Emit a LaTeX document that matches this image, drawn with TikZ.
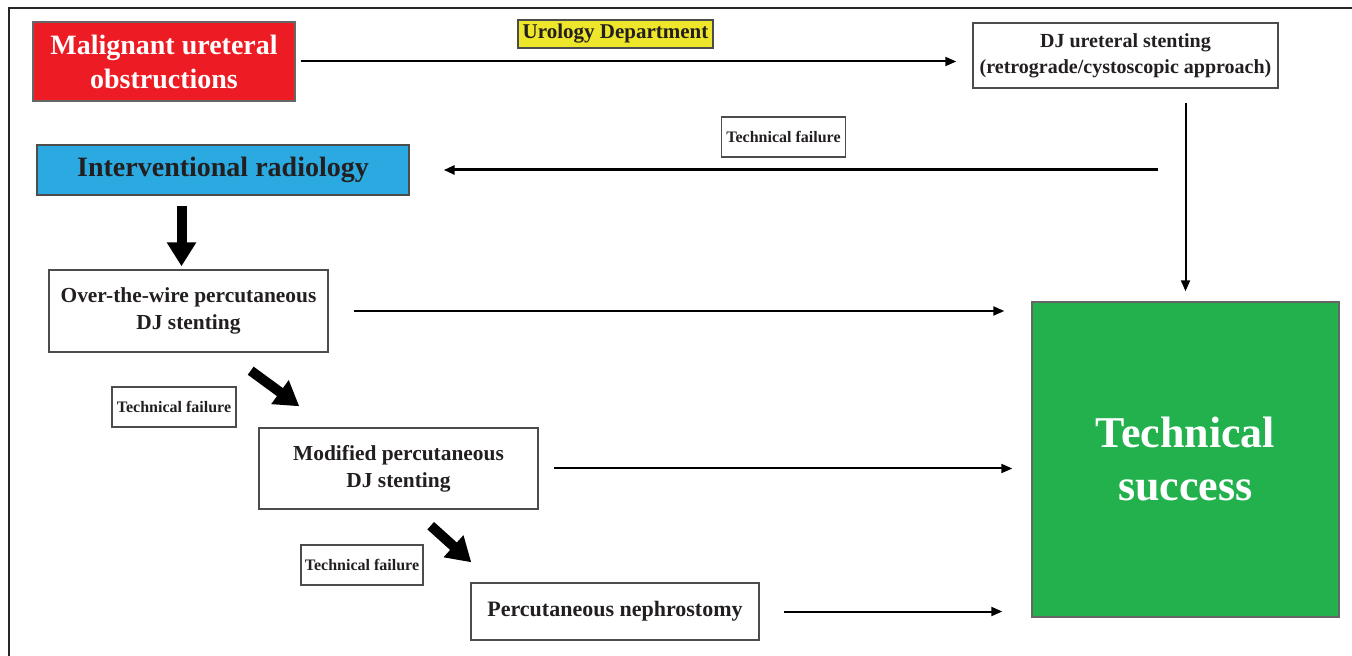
\documentclass[tikz,border=0pt]{standalone}
\usepackage{fontspec}
\setmainfont{Liberation Serif}
\usetikzlibrary{arrows.meta,calc}

\definecolor{maligred}{HTML}{ED1C24}
\definecolor{irblue}{HTML}{2AAAE0}
\definecolor{uroyellow}{HTML}{EDE62A}
\definecolor{okgreen}{HTML}{22B14C}
\definecolor{inkdark}{HTML}{231F20}

\tikzset{
  stage/.style={draw=black!70, line width=0.7pt, align=center, inner sep=0pt,
    text=inkdark, font=\bfseries\fontsize{10.7}{13.5}\selectfont},
  fail/.style={stage, minimum width=62pt, minimum height=20pt,
    font=\bfseries\fontsize{8}{9}\selectfont},
  flow/.style={-{Triangle[width=4.5pt,length=5.5pt]}, line width=1pt},
  push/.style={-{Triangle[width=14pt,length=12pt]}, line width=5pt},
}

\begin{document}
\begin{tikzpicture}[x=0.5pt,y=-0.5pt]
  \useasboundingbox (0,0) rectangle (1352,656);
  % frame
  \draw[line width=1pt, black!85] (9,656) -- (9,8) -- (1352,8);

  % Nodes
  \node[stage, fill=maligred, draw=black!60, text=white, minimum width=131pt, minimum height=39.5pt,
    font=\bfseries\fontsize{14}{17}\selectfont] (malig) at (164,61.5) {Malignant ureteral\\obstructions};
  \node[stage, fill=uroyellow, minimum width=97.5pt, minimum height=14pt,
    font=\bfseries\fontsize{10.5}{12}\selectfont] (urol) at (615.5,34) {Urology Department};
  \node[stage, minimum width=152.5pt, minimum height=32.5pt,
    font=\bfseries\fontsize{10}{13}\selectfont] (dj) at (1125.5,55.5) {DJ ureteral stenting\\(retrograde/cystoscopic approach)};
  \node[fail] (fail1) at (783.5,137) {Technical failure};
  \node[stage, fill=irblue, minimum width=186pt, minimum height=25pt,
    font=\bfseries\fontsize{14}{17}\selectfont] (ir) at (223,170) {Interventional radiology};
  \node[stage, minimum width=139.5pt, minimum height=41pt] (otw) at (188.5,311) {Over-the-wire percutaneous\\DJ stenting};
  \node[fail] (fail2) at (174,407) {Technical failure};
  \node[stage, minimum width=139.5pt, minimum height=40.5pt] (mod) at (398.5,468.5) {Modified percutaneous\\DJ stenting};
  \node[fail, minimum width=61pt] (fail3) at (362,565) {Technical failure};
  \node[stage, minimum width=144pt, minimum height=28.5pt,
    font=\bfseries\fontsize{11}{13.5}\selectfont] (neph) at (615,611.5) {Percutaneous nephrostomy};
  \node[stage, fill=okgreen, draw=black!60, text=white, minimum width=153.5pt, minimum height=157.5pt,
    font=\bfseries\fontsize{22}{26.5}\selectfont] (success) at (1185.5,459.5) {Technical\\success};

  % edges
  \draw[flow, shorten <=2.5pt, shorten >=8pt] (malig.east) -- (malig.east -| dj.west);
  \draw[flow, shorten <=7pt, shorten >=5pt] (dj.south -| success.north) -- (success.north);
  \draw[flow, line width=1.5pt, shorten <=13.75pt, shorten >=17pt] (ir.east -| success.north) -- (ir.east);
  \draw[flow, shorten <=12.5pt, shorten >=13.5pt] (otw.east) -- (otw.east -| success.west);
  \draw[flow, shorten <=7.5pt, shorten >=9.5pt] (mod.east) -- (mod.east -| success.west);
  \draw[flow, shorten <=12pt, shorten >=14.5pt] (neph.east) -- (neph.east -| success.west);

  % failure steps
  \draw[push] ($(ir.south -| otw.north)+(-7,10)$) -- ($(otw.north)+(-7,-3)$);
  \draw[push] ($(otw.south east)+(-78,18)$) -- ($(mod.north west)+(41,-21)$);
  \draw[push] ($(mod.south east)+(-108,16)$) -- ($(neph.north west)+(1,-20)$);
\end{tikzpicture}
\end{document}
